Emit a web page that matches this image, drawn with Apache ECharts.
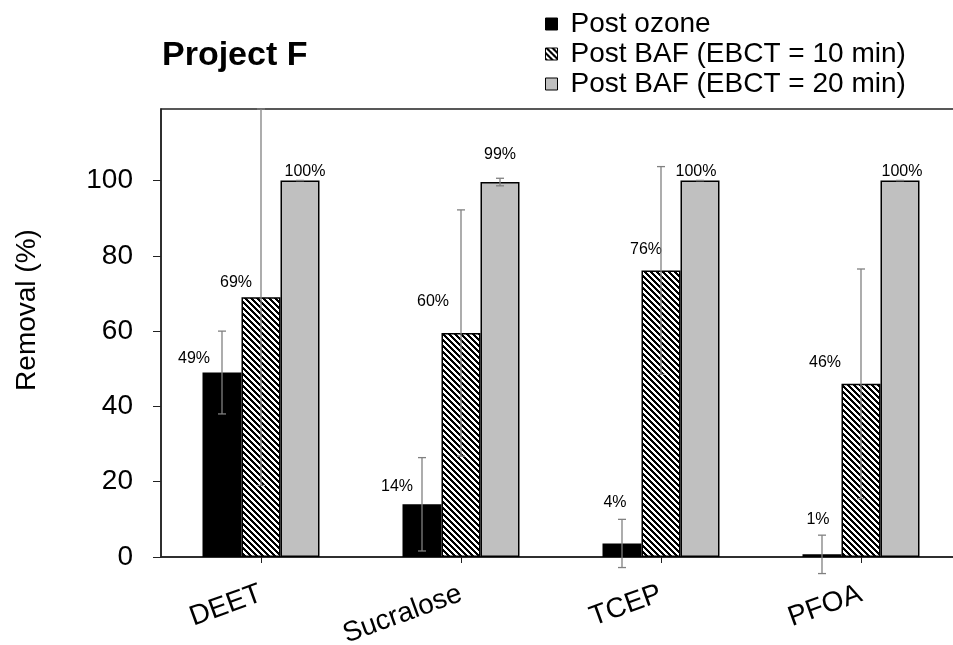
<!DOCTYPE html>
<html>
<head>
<meta charset="utf-8">
<script src="https://cdn.jsdelivr.net/npm/echarts@6/dist/echarts.min.js"></script>
<style>
html,body{margin:0;padding:0;background:#fff;}
#chart{width:953px;height:645px;}
</style>
</head>
<body>
<div id="chart"></div>
<script>
// ---- data ----
const categories = ['DEET', 'Sucralose', 'TCEP', 'PFOA'];
const seriesNames = ['Post ozone', 'Post BAF (EBCT = 10 min)', 'Post BAF (EBCT = 20 min)'];
const ozoneValues = [49, 14, 3.6, 0.7];
const ozoneErrors = [11, 12.4, 6.4, 5.1];
const baf10Values = [69, 59.5, 76.1, 46];
const baf10Errors = [50, 32.7, 27.6, 30.5];
const baf20Values = [100, 99.6, 100, 100];
const baf20Errors = [0, 1, 0, 0];
const ozoneLabels = ['49%', '14%', '4%', '1%'];
const baf10Labels = ['69%', '60%', '76%', '46%'];
const baf20Labels = ['100%', '99%', '100%', '100%'];
const yTickValues = [0, 20, 40, 60, 80, 100];
const chartTitle = 'Project F';
const yAxisTitle = 'Removal (%)';

// ---- styling / layout ----
const FONT = '"Liberation Sans", Arial, sans-serif';
const BAR_W = 39;
// label nudges (px) relative to default "top" position, as placed in the original
const ozoneLabelShift = [[-28, -6], [-25, -10], [-7, -33], [-4, -27]];
const baf10LabelShift = [[-25, -7], [-28, -23], [-15, -13], [-36, -13]];
const baf20LabelShift = [[5, -1], [0, -19], [-4, -1], [2, -1]];

function makeHatch() {
  const size = 6;
  const c = document.createElement('canvas');
  c.width = size; c.height = size;
  const ctx = c.getContext('2d');
  const img = ctx.createImageData(size, size);
  for (let y = 0; y < size; y++) {
    for (let x = 0; x < size; x++) {
      const k = ((x - y) % size + size) % size;
      const black = k < 3;
      const i = (y * size + x) * 4;
      const v = black ? 0 : 255;
      img.data[i] = v; img.data[i + 1] = v; img.data[i + 2] = v; img.data[i + 3] = 255;
    }
  }
  ctx.putImageData(img, 0, 0);
  return c;
}
const hatch = { image: makeHatch(), repeat: 'repeat' };

const fills = ['#000000', hatch, '#c0c0c0'];
const values = [ozoneValues, baf10Values, baf20Values];
const errors = [ozoneErrors, baf10Errors, baf20Errors];
const labels = [ozoneLabels, baf10Labels, baf20Labels];
const shifts = [ozoneLabelShift, baf10LabelShift, baf20LabelShift];

const barSeries = seriesNames.map((name, s) => ({
  name: name,
  type: 'bar',
  barWidth: BAR_W,
  barGap: '0%',
  itemStyle: { color: fills[s], borderColor: '#000', borderWidth: 1.5 },
  data: values[s].map((v, i) => ({
    value: v,
    label: {
      show: true,
      position: 'top',
      distance: 0,
      offset: shifts[s][i],
      formatter: labels[s][i],
      fontSize: 16,
      lineHeight: 16,
      fontFamily: FONT,
      color: '#000'
    }
  })),
  z: 2
}));

const errSeries = seriesNames.map((name, s) => ({
  name: name + ' error',
  type: 'custom',
  z: 5,
  silent: true,
  clip: false,
  data: values[s].map((v, i) => [i, v, errors[s][i]]),
  renderItem: function (params, api) {
    const ci = api.value(0), v = api.value(1), e = api.value(2);
    const dx = (s - 1) * BAR_W;
    const top = api.coord([ci, v + e]);
    const bot = api.coord([ci, v - e]);
    const x = top[0] + dx;
    const cap = 4;
    const st = { stroke: '#808080', lineWidth: 1.3 };
    return {
      type: 'group',
      children: [
        { type: 'line', shape: { x1: x, y1: top[1], x2: x, y2: bot[1] }, style: st },
        { type: 'line', shape: { x1: x - cap, y1: top[1], x2: x + cap, y2: top[1] }, style: st },
        { type: 'line', shape: { x1: x - cap, y1: bot[1], x2: x + cap, y2: bot[1] }, style: st }
      ]
    };
  }
}));

const chart = echarts.init(document.getElementById('chart'));
chart.setOption({
  animation: false,
  backgroundColor: '#fff',
  title: {
    text: chartTitle,
    left: 157,
    top: 34,
    textStyle: { fontSize: 34, fontWeight: 'bold', fontFamily: FONT, color: '#000' }
  },
  legend: {
    orient: 'vertical',
    left: 540,
    top: 4,
    itemWidth: 12,
    itemHeight: 12,
    itemGap: 0,
    icon: 'rect',
    selectedMode: false,
    data: seriesNames,
    itemStyle: { borderColor: '#000', borderWidth: 1 },
    textStyle: { fontSize: 28, fontFamily: FONT, color: '#000', lineHeight: 30, padding: [0, 0, 0, 8] }
  },
  grid: {
    left: 161,
    top: 109,
    width: 800,
    height: 448,
    show: true,
    borderColor: '#222',
    borderWidth: 1.5,
    containLabel: false,
    outerBoundsMode: 'none'
  },
  xAxis: {
    type: 'category',
    data: categories,
    axisLine: { lineStyle: { color: '#222', width: 1.5 } },
    axisTick: { show: true, alignWithLabel: true, length: 6, lineStyle: { color: '#222' } },
    axisLabel: { rotate: 20, fontSize: 28, fontFamily: FONT, color: '#000', margin: 36 }
  },
  yAxis: {
    type: 'value',
    min: 0,
    max: 119,
    interval: 20,
    splitLine: { show: false },
    axisLine: { show: true, lineStyle: { color: '#222', width: 1.5 } },
    axisTick: { show: true, length: 8, customValues: yTickValues, lineStyle: { color: '#222' } },
    axisLabel: { fontSize: 28, fontFamily: FONT, color: '#000', margin: 28, customValues: yTickValues }
  },
  graphic: [{
    type: 'text',
    x: 27,
    y: 310,
    rotation: Math.PI / 2,
    style: {
      text: yAxisTitle,
      fill: '#000',
      font: '28px ' + FONT,
      textAlign: 'center',
      textVerticalAlign: 'middle',
      align: 'center',
      verticalAlign: 'middle'
    }
  }],
  series: barSeries.concat(errSeries)
});
</script>
</body>
</html>
